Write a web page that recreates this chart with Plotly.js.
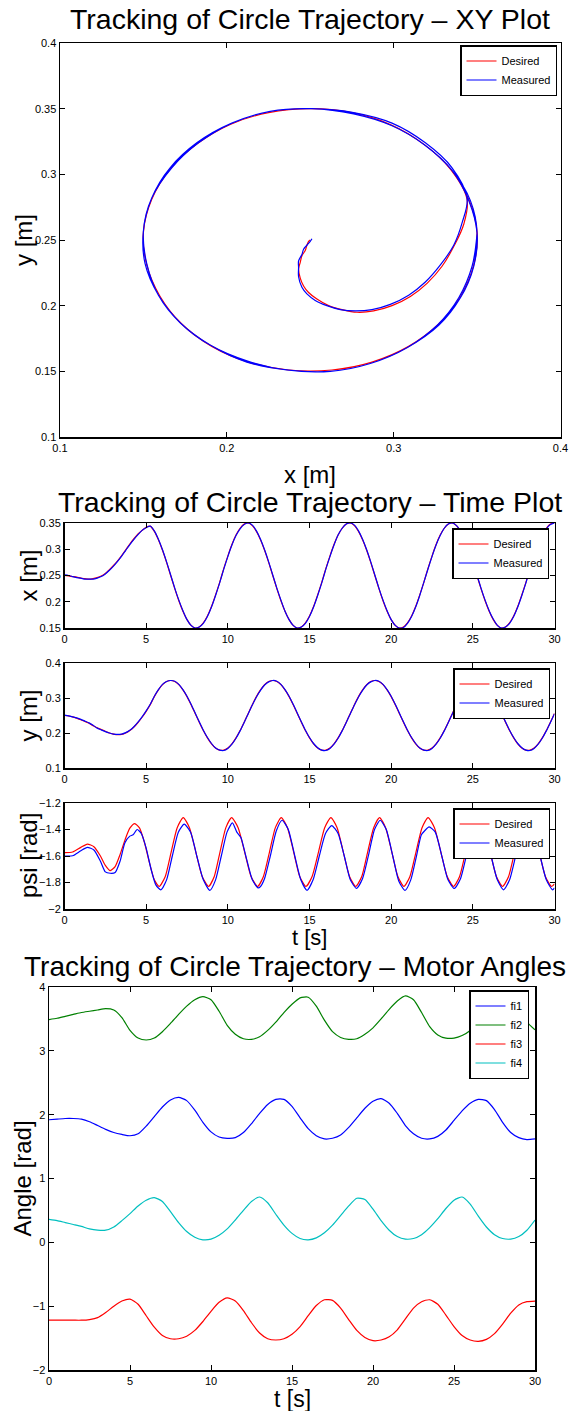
<!DOCTYPE html>
<html>
<head>
<meta charset="utf-8">
<script src="https://cdn.plot.ly/plotly-3.0.1.min.js"></script>
<style>html,body{margin:0;padding:0;background:#fff}#chart{width:569px;height:1411px}</style>
</head>
<body>
<div id="chart"></div>
<script>
// ---------- data ----------
// time samples for the x / y position series (s)
const t = [0,0.25,0.5,0.75,1,1.25,1.5,1.75,2,2.25,2.5,2.75,3,3.25,3.5,3.75,4,4.25,4.5,4.75,
  5,5.25,5.5,5.75,6,6.25,6.5,6.75,7,7.25,7.5,7.75,8,8.25,8.5,8.75,9,9.25,9.5,9.75,
  10,10.25,10.5,10.75,11,11.25,11.5,11.75,12,12.25,12.5,12.75,13,13.25,13.5,13.75,14,14.25,14.5,14.75,
  15,15.25,15.5,15.75,16,16.25,16.5,16.75,17,17.25,17.5,17.75,18,18.25,18.5,18.75,19,19.25,19.5,19.75,
  20,20.25,20.5,20.75,21,21.25,21.5,21.75,22,22.25,22.5,22.75,23,23.25,23.5,23.75,24,24.25,24.5,24.75,
  25,25.25,25.5,25.75,26,26.25,26.5,26.75,27,27.25,27.5,27.75,28,28.25,28.5,28.75,29,29.25,29.5,29.75,30];

const xDesired = [0.250,0.249,0.248,0.247,0.245,0.244,0.243,0.244,0.246,0.249,0.254,0.261,0.269,0.278,0.288,0.299,0.310,0.320,0.329,0.336,0.342,0.344,
  0.334,0.318,0.298,0.275,0.250,0.225,0.202,0.182,0.166,0.155,0.150,0.152,0.160,0.173,0.191,0.213,0.237,0.263,0.287,0.309,0.327,0.340,0.348,
  0.350,0.345,0.334,0.318,0.298,0.275,0.250,0.225,0.202,0.182,0.166,0.155,0.150,0.152,0.160,0.173,0.191,0.213,0.237,0.263,0.287,0.309,0.327,0.340,0.348,
  0.350,0.345,0.334,0.318,0.298,0.275,0.250,0.225,0.202,0.182,0.166,0.155,0.150,0.152,0.160,0.173,0.191,0.213,0.237,0.263,0.287,0.309,0.327,0.340,0.348,
  0.350,0.345,0.334,0.318,0.298,0.275,0.250,0.225,0.202,0.182,0.166,0.155,0.150,0.152,0.160,0.173,0.191,0.213,0.237,0.263,0.287,0.309,0.327,0.340,0.348,
  0.350];
const xMeasured = [0.251,0.250,0.248,0.246,0.245,0.243,0.243,0.243,0.245,0.248,0.253,0.260,0.268,0.277,0.287,0.298,0.309,0.319,0.328,0.336,0.341,0.344,
  0.335,0.319,0.299,0.276,0.251,0.226,0.203,0.183,0.166,0.155,0.150,0.152,0.159,0.172,0.190,0.212,0.236,0.262,0.286,0.308,0.326,0.339,0.347,
  0.350,0.346,0.335,0.319,0.299,0.276,0.251,0.226,0.203,0.182,0.166,0.155,0.150,0.152,0.159,0.172,0.190,0.212,0.236,0.262,0.286,0.308,0.327,0.340,0.348,
  0.350,0.346,0.335,0.319,0.299,0.276,0.251,0.226,0.203,0.183,0.166,0.155,0.150,0.151,0.159,0.172,0.190,0.212,0.237,0.262,0.286,0.308,0.326,0.340,0.348,
  0.350,0.345,0.335,0.319,0.299,0.276,0.251,0.226,0.203,0.183,0.167,0.155,0.150,0.152,0.159,0.172,0.190,0.212,0.236,0.262,0.286,0.308,0.326,0.339,0.347,
  0.350];
const yDesired = [0.250,0.249,0.246,0.242,0.238,0.233,0.228,0.221,0.215,0.210,0.205,0.200,0.197,0.195,0.196,0.200,0.207,0.217,0.230,0.245,0.262,0.281,
  0.304,0.323,0.338,0.347,
  0.350,0.347,0.338,0.323,0.304,0.281,0.256,0.231,0.207,0.186,0.169,0.157,0.151,0.151,0.157,0.169,0.186,0.207,0.231,0.256,0.281,0.304,0.323,0.338,0.347,
  0.350,0.347,0.338,0.323,0.304,0.281,0.256,0.231,0.207,0.186,0.169,0.157,0.151,0.151,0.157,0.169,0.186,0.207,0.231,0.256,0.281,0.304,0.323,0.338,0.347,
  0.350,0.347,0.338,0.323,0.304,0.281,0.256,0.231,0.207,0.186,0.169,0.157,0.151,0.151,0.157,0.169,0.186,0.207,0.231,0.256,0.281,0.304,0.323,0.338,0.347,
  0.350,0.347,0.338,0.323,0.304,0.281,0.256,0.231,0.207,0.186,0.169,0.157,0.151,0.151,0.157,0.169,0.186,0.207,0.231,0.256];
const yMeasured = [0.251,0.249,0.246,0.243,0.239,0.234,0.229,0.222,0.214,0.209,0.204,0.200,0.197,0.196,0.197,0.201,0.208,0.218,0.231,0.246,0.263,0.282,
  0.305,0.324,0.339,0.347,
  0.350,0.348,0.339,0.324,0.305,0.282,0.257,0.232,0.208,0.187,0.170,0.157,0.151,0.150,0.156,0.168,0.185,0.206,0.230,0.255,0.280,0.303,0.322,0.337,0.346,
  0.350,0.348,0.339,0.324,0.305,0.282,0.257,0.232,0.208,0.187,0.170,0.158,0.151,0.150,0.156,0.168,0.185,0.206,0.230,0.255,0.280,0.303,0.322,0.337,0.346,
  0.350,0.348,0.339,0.324,0.305,0.282,0.257,0.232,0.208,0.187,0.170,0.157,0.151,0.150,0.156,0.168,0.185,0.206,0.230,0.255,0.280,0.303,0.322,0.337,0.346,
  0.350,0.348,0.339,0.324,0.305,0.282,0.257,0.232,0.208,0.187,0.170,0.158,0.151,0.150,0.156,0.168,0.185,0.206,0.230,0.255];

const psiTimeDesired = [0,0.5,1,1.4,1.8,2.2,2.5,2.8,3.1,3.4,3.7,4,4.3,4.6,4.9,5.2,5.5,5.8,
  6.17,6.53,6.9,7.27,7.65,8.04,8.43,8.82,9.17,9.52,9.88,10.23,10.63,11.03,11.42,11.82,
  12.18,12.55,12.91,13.27,13.65,14.03,14.4,14.78,15.16,15.55,15.93,16.31,16.69,17.07,17.45,17.83,
  18.2,18.56,18.93,19.29,19.66,20.04,20.41,20.78,21.15,21.52,21.89,22.26,22.65,23.04,23.43,23.82,
  24.19,24.56,24.93,25.3,25.68,26.06,26.44,26.82,27.19,27.56,27.93,28.3,28.68,29.06,29.44,29.82,30];
const psiDesired = [-1.575,-1.570,-1.535,-1.510,-1.530,-1.600,-1.670,-1.710,-1.680,-1.590,-1.480,-1.390,-1.355,-1.390,-1.500,-1.650,-1.780,-1.830,
  -1.754,-1.570,-1.386,-1.310,-1.386,-1.570,-1.754,-1.830,-1.754,-1.570,-1.386,-1.310,-1.386,-1.570,-1.754,-1.830,
  -1.754,-1.570,-1.386,-1.310,-1.386,-1.570,-1.754,-1.830,-1.754,-1.570,-1.386,-1.310,-1.386,-1.570,-1.754,-1.830,
  -1.754,-1.570,-1.386,-1.310,-1.386,-1.570,-1.754,-1.830,-1.754,-1.570,-1.386,-1.310,-1.386,-1.570,-1.754,-1.830,
  -1.754,-1.570,-1.386,-1.310,-1.386,-1.570,-1.754,-1.830,-1.754,-1.570,-1.386,-1.310,-1.386,-1.570,-1.754,-1.830,-1.810];
const psiTimeMeasured = [0,0.5,1,1.4,1.8,2.2,2.5,2.8,3.1,3.4,3.7,4,4.2,4.45,4.7,5,5.3,5.6,5.9,
  6.25,6.6,6.97,7.33,7.72,8.1,8.5,8.9,9.25,9.6,9.95,10.28,10.55,10.8,11.1,11.5,11.85,12,
  12.25,12.6,12.97,13.32,13.7,14.1,14.47,14.85,15.22,15.6,15.98,16.36,16.75,17.13,17.5,17.88,
  18.25,18.62,18.98,19.33,19.7,20.1,20.47,20.85,21.2,21.55,21.85,22.05,22.32,22.7,23.1,23.48,23.87,
  24.25,24.62,24.99,25.35,25.73,26.12,26.5,26.88,27.25,27.62,27.99,28.35,28.73,29.12,29.5,29.88,30];
const psiMeasured = [-1.600,-1.598,-1.560,-1.535,-1.555,-1.640,-1.720,-1.730,-1.725,-1.640,-1.500,-1.450,-1.440,-1.400,-1.430,-1.540,-1.700,-1.820,-1.855,
  -1.780,-1.600,-1.420,-1.360,-1.420,-1.600,-1.780,-1.860,-1.780,-1.600,-1.420,-1.350,-1.420,-1.460,-1.600,-1.780,-1.840,-1.830,
  -1.770,-1.600,-1.410,-1.330,-1.400,-1.600,-1.780,-1.860,-1.780,-1.600,-1.430,-1.370,-1.430,-1.600,-1.780,-1.845,
  -1.770,-1.590,-1.400,-1.330,-1.400,-1.600,-1.790,-1.860,-1.780,-1.600,-1.440,-1.410,-1.380,-1.420,-1.600,-1.780,-1.845,
  -1.770,-1.590,-1.410,-1.330,-1.400,-1.600,-1.780,-1.855,-1.780,-1.600,-1.410,-1.330,-1.400,-1.600,-1.780,-1.855,-1.840];

// time samples for the motor angles (s)
const tMotor = [0,0.5,1,1.5,2,2.5,3,3.5,4,4.5,5,5.5,6,6.5,7,7.5,8,8.5,9,9.5,10,10.5,11,11.5,12,12.5,13,13.5,14,14.5,15,15.5,16,16.5,17,17.5,18,18.5,19,19.5,20,20.5,21,21.5,22,22.5,23,23.5,24,24.5,25,25.5,26,26.5,27,27.5,28,28.5,29,29.5,30];
const fi1 = [1.92,1.93,1.94,1.94,1.93,1.89,1.83,1.77,1.72,1.69,1.67,1.70,1.82,1.97,2.12,2.23,2.27,2.22,2.07,1.88,1.73,1.65,1.63,1.64,1.72,1.86,2.02,2.16,2.24,2.24,2.13,1.95,1.78,1.67,1.62,1.63,1.68,1.80,1.95,2.10,2.21,2.25,2.18,2.02,1.83,1.70,1.63,1.62,1.66,1.76,1.91,2.06,2.18,2.24,2.22,2.08,1.88,1.72,1.64,1.61,1.62];
const fi2 = [3.49,3.51,3.54,3.57,3.60,3.62,3.64,3.66,3.64,3.52,3.32,3.20,3.17,3.20,3.30,3.43,3.57,3.70,3.80,3.85,3.80,3.62,3.40,3.26,3.19,3.18,3.22,3.32,3.45,3.60,3.73,3.83,3.84,3.70,3.48,3.30,3.21,3.18,3.19,3.26,3.36,3.50,3.65,3.78,3.86,3.80,3.60,3.38,3.25,3.20,3.20,3.24,3.32,3.45,3.60,3.73,3.83,3.82,3.65,3.45,3.33];
const fi3 = [-1.22,-1.22,-1.22,-1.22,-1.22,-1.21,-1.18,-1.10,-1.00,-0.92,-0.89,-0.97,-1.15,-1.33,-1.46,-1.51,-1.51,-1.47,-1.38,-1.24,-1.08,-0.94,-0.87,-0.92,-1.07,-1.26,-1.42,-1.51,-1.53,-1.51,-1.44,-1.32,-1.15,-0.99,-0.90,-0.91,-1.03,-1.21,-1.38,-1.49,-1.54,-1.53,-1.48,-1.37,-1.20,-1.03,-0.93,-0.90,-0.97,-1.14,-1.32,-1.46,-1.53,-1.55,-1.52,-1.43,-1.28,-1.11,-0.98,-0.93,-0.92];
const fi4 = [0.36,0.34,0.31,0.28,0.25,0.21,0.19,0.19,0.24,0.34,0.45,0.57,0.66,0.70,0.64,0.48,0.31,0.17,0.08,0.04,0.05,0.11,0.21,0.35,0.50,0.64,0.71,0.62,0.44,0.27,0.14,0.06,0.04,0.07,0.15,0.27,0.42,0.57,0.69,0.67,0.52,0.34,0.19,0.09,0.05,0.06,0.12,0.23,0.37,0.53,0.66,0.71,0.60,0.41,0.24,0.12,0.06,0.05,0.09,0.19,0.35];

const xTicksXY = [0.1,0.2,0.3,0.4];

// ---------- layout helpers ----------
const W = 569, H = 1411;
const px = v => v / W;            // horizontal pixel -> paper
const py = v => 1 - v / H;        // vertical pixel (from top) -> paper
const FONT = 'Liberation Sans, Arial, Helvetica, sans-serif';
const RED = '#ff0000', BLUE = '#0000ff', GREEN = '#008000', CYAN = '#00bfbf';

function ax(extra) {
  return Object.assign({
    showline: true, linecolor: '#000', linewidth: 1.5, mirror: 'ticks',
    ticks: 'inside', ticklen: 5, tickwidth: 1, tickcolor: '#000',
    showgrid: false, zeroline: false, fixedrange: true,
    tickfont: {family: FONT, size: 11, color: '#000'}
  }, extra);
}
function leg(x, y) {
  return {x: x, y: y, xanchor: 'right', yanchor: 'top', xref: 'paper', yref: 'paper',
    bgcolor: '#fff', bordercolor: '#000', borderwidth: 1.5,
    font: {family: FONT, size: 11, color: '#000'}, tracegroupgap: 0, itemwidth: 30};
}
function line(x, y, color, name, xa, ya, legend, smooth) {
  return {type: 'scatter', mode: 'lines', x: x, y: y, name: name, xaxis: xa, yaxis: ya,
    legend: legend, line: {color: color, width: 1.2, shape: 'spline', smoothing: smooth || 0.6}};
}

const data = [
  line(xDesired, yDesired, RED, 'Desired', 'x', 'y', 'legend', 1),
  line(xMeasured, yMeasured, BLUE, 'Measured', 'x', 'y', 'legend', 1),
  line(t, xDesired, RED, 'Desired', 'x2', 'y2', 'legend2'),
  line(t, xMeasured, BLUE, 'Measured', 'x2', 'y2', 'legend2'),
  line(t, yDesired, RED, 'Desired', 'x3', 'y3', 'legend3'),
  line(t, yMeasured, BLUE, 'Measured', 'x3', 'y3', 'legend3'),
  line(psiTimeDesired, psiDesired, RED, 'Desired', 'x4', 'y4', 'legend4'),
  line(psiTimeMeasured, psiMeasured, BLUE, 'Measured', 'x4', 'y4', 'legend4'),
  line(tMotor, fi1, BLUE, 'fi1', 'x5', 'y5', 'legend5'),
  line(tMotor, fi2, GREEN, 'fi2', 'x5', 'y5', 'legend5'),
  line(tMotor, fi3, RED, 'fi3', 'x5', 'y5', 'legend5'),
  line(tMotor, fi4, CYAN, 'fi4', 'x5', 'y5', 'legend5')
];

const dom2x = [px(64.5), px(554.5)];
const layout = {
  width: W, height: H, margin: {l: 0, r: 0, t: 0, b: 0},
  paper_bgcolor: '#fff', plot_bgcolor: '#fff', showlegend: true,
  font: {family: FONT, color: '#000'},
  xaxis:  ax({domain: [px(60), px(560.5)], range: [0.1, 0.4], tickvals: xTicksXY, anchor: 'y'}),
  yaxis:  ax({domain: [py(437), py(43)], range: [0.1, 0.4], dtick: 0.05, tick0: 0.1, anchor: 'x'}),
  xaxis2: ax({domain: dom2x, range: [0, 30], dtick: 5, anchor: 'y2'}),
  yaxis2: ax({domain: [py(628), py(523)], range: [0.15, 0.35], dtick: 0.05, tick0: 0.15, anchor: 'x2'}),
  xaxis3: ax({domain: dom2x, range: [0, 30], dtick: 5, anchor: 'y3'}),
  yaxis3: ax({domain: [py(768), py(663)], range: [0.1, 0.4], dtick: 0.1, tick0: 0.1, anchor: 'x3'}),
  xaxis4: ax({domain: dom2x, range: [0, 30], dtick: 5, anchor: 'y4'}),
  yaxis4: ax({domain: [py(909), py(803)], range: [-2, -1.2], dtick: 0.2, tick0: -2, anchor: 'x4'}),
  xaxis5: ax({domain: [px(49), px(535)], range: [0, 30], dtick: 5, anchor: 'y5'}),
  yaxis5: ax({domain: [py(1370), py(987)], range: [-2, 4], dtick: 1, tick0: -2, anchor: 'x5'}),
  legend:  leg(px(557), py(45)),
  legend2: leg(px(549), py(528)),
  legend3: leg(px(550), py(668)),
  legend4: leg(px(550), py(808)),
  legend5: leg(px(529), py(990)),
  annotations: []
};

function txt(text, x, y, size, angle) {
  return {text: text, x: px(x), y: py(y), xref: 'paper', yref: 'paper',
    xanchor: 'center', yanchor: 'middle', showarrow: false, textangle: angle || 0,
    font: {family: FONT, size: size, color: '#000'}};
}
layout.annotations.push(
  txt('Tracking of Circle Trajectory \u2013 XY Plot', 310, 19, 28.5),
  txt('x [m]', 310, 475, 24),
  txt('y [m]', 24, 240, 24, -90),
  txt('Tracking of Circle Trajectory \u2013 Time Plot', 310, 502, 28.5),
  txt('x [m]', 28, 575.5, 24, -90),
  txt('y [m]', 28, 715.5, 24, -90),
  txt('psi [rad]', 28, 856, 24, -90),
  txt('t [s]', 309.5, 937.5, 22),
  txt('Tracking of Circle Trajectory \u2013 Motor Angles', 295, 966, 28),
  txt('Angle [rad]', 22, 1178.5, 24, -90),
  txt('t [s]', 292, 1399, 23)
);

Plotly.newPlot('chart', data, layout, {staticPlot: true, displayModeBar: false});
</script>
</body>
</html>
